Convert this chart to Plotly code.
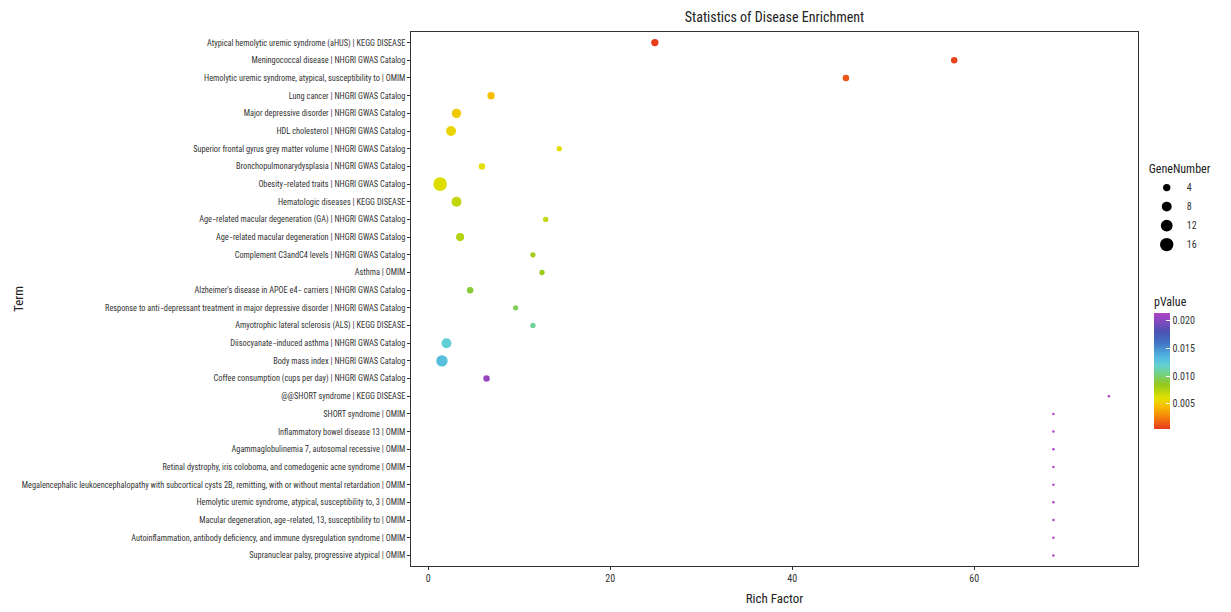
import numpy as np
import plotly.graph_objects as go

terms = [
    "Atypical hemolytic uremic syndrome (aHUS) | KEGG DISEASE",
    "Meningococcal disease | NHGRI GWAS Catalog",
    "Hemolytic uremic syndrome, atypical, susceptibility to | OMIM",
    "Lung cancer | NHGRI GWAS Catalog",
    "Major depressive disorder | NHGRI GWAS Catalog",
    "HDL cholesterol | NHGRI GWAS Catalog",
    "Superior frontal gyrus grey matter volume | NHGRI GWAS Catalog",
    "Bronchopulmonarydysplasia | NHGRI GWAS Catalog",
    "Obesity−related traits | NHGRI GWAS Catalog",
    "Hematologic diseases | KEGG DISEASE",
    "Age−related macular degeneration (GA) | NHGRI GWAS Catalog",
    "Age−related macular degeneration | NHGRI GWAS Catalog",
    "Complement C3andC4 levels | NHGRI GWAS Catalog",
    "Asthma | OMIM",
    "Alzheimer's disease in APOE e4− carriers | NHGRI GWAS Catalog",
    "Response to anti−depressant treatment in major depressive disorder | NHGRI GWAS Catalog",
    "Amyotrophic lateral sclerosis (ALS) | KEGG DISEASE",
    "Diisocyanate−induced asthma | NHGRI GWAS Catalog",
    "Body mass index | NHGRI GWAS Catalog",
    "Coffee consumption (cups per day) | NHGRI GWAS Catalog",
    "@@SHORT syndrome | KEGG DISEASE",
    "SHORT syndrome | OMIM",
    "Inflammatory bowel disease 13 | OMIM",
    "Agammaglobulinemia 7, autosomal recessive | OMIM",
    "Retinal dystrophy, iris coloboma, and comedogenic acne syndrome | OMIM",
    "Megalencephalic leukoencephalopathy with subcortical cysts 2B, remitting, with or without mental retardation | OMIM",
    "Hemolytic uremic syndrome, atypical, susceptibility to, 3 | OMIM",
    "Macular degeneration, age−related, 13, susceptibility to | OMIM",
    "Autoinflammation, antibody deficiency, and immune dysregulation syndrome | OMIM",
    "Supranuclear palsy, progressive atypical | OMIM",
]

rich_factor = [24.9, 57.8, 45.9, 6.9, 3.1, 2.5, 14.4, 5.9, 1.3, 3.1,
               12.9, 3.5, 11.5, 12.5, 4.6, 9.6, 11.5, 2.0, 1.5, 6.4,
               74.8, 68.7, 68.7, 68.7, 68.7, 68.7, 68.7, 68.7, 68.7, 68.7]

gene_number = [4, 3, 3, 4, 7, 8, 2, 3, 17, 8,
               2, 5, 2, 2, 3, 2, 2, 8, 11, 3,
               1, 1, 1, 1, 1, 1, 1, 1, 1, 1]

p_value = [0.0005, 0.0007, 0.0012, 0.0045, 0.0050, 0.0055, 0.0060, 0.0060, 0.0062, 0.0070,
           0.0070, 0.0075, 0.0080, 0.0082, 0.0090, 0.0095, 0.0108, 0.0120, 0.0130, 0.0205,
           0.0214, 0.0214, 0.0214, 0.0214, 0.0214, 0.0214, 0.0214, 0.0214, 0.0214, 0.0214]

legend_sizes = [4, 8, 12, 16]
x_ticks = [0, 20, 40, 60]
cbar_ticks = [0.005, 0.010, 0.015, 0.020]

P_MIN, P_MAX = 0.0004, 0.0214
colorscale = [
    [0.0, "#e63a1e"], [0.10, "#f5800c"], [0.195, "#f7bd00"], [0.267, "#e2e000"],
    [0.386, "#92c81e"], [0.481, "#72d28c"], [0.552, "#62d0d2"], [0.624, "#52b6e2"],
    [0.743, "#4274c4"], [0.838, "#4a52b2"], [1.0, "#b042c4"],
]

def diam(g):
    return 2.5 + 2.8 * np.sqrt(np.asarray(g, dtype=float) - 1)

FONT = "Roboto Condensed, DejaVu Sans Condensed, Liberation Sans Narrow, Arial Narrow, Liberation Sans, Arial, sans-serif"

# page body has an 8px default margin; figure is sized/offset to compensate
W, H = 1223, 604
ML, MR, MT, MB = 403, 93, 24, 46

fig = go.Figure()
fig.add_trace(go.Scatter(
    x=rich_factor, y=terms, mode="markers", showlegend=False,
    marker=dict(size=diam(gene_number), color=p_value, colorscale=colorscale,
                cmin=P_MIN, cmax=P_MAX, line=dict(width=0), opacity=1,
                colorbar=dict(
                    title=dict(text="pValue", font=dict(size=12, family=FONT, color="#222"), side="top"),
                    tickvals=cbar_ticks, ticktext=[f"{v:.3f}" for v in cbar_ticks],
                    ticks="inside", ticklen=4, tickcolor="white",
                    tickfont=dict(size=10, family=FONT, color="#333"),
                    thickness=16, lenmode="pixels", len=135,
                    x=1.022, xanchor="left", y=0.509, yanchor="top",
                    outlinewidth=0, ypad=0, xpad=0,
                )),
))

for s in legend_sizes:
    fig.add_trace(go.Scatter(
        x=[None], y=[None], mode="markers", name=str(s), showlegend=True,
        marker=dict(size=float(diam(s)), color="black"),
    ))

fig.update_layout(
    width=W, height=H,
    margin=dict(l=ML, r=MR, t=MT, b=MB),
    paper_bgcolor="white", plot_bgcolor="white",
    font=dict(family=FONT, color="#333"),
    title=dict(text="Statistics of Disease Enrichment", x=0.5, xref="paper",
               y=1 - 9 / H, yanchor="middle",
               font=dict(size=14, family=FONT, color="#222")),
    legend=dict(title=dict(text="GeneNumber", font=dict(size=12, family=FONT, color="#222")),
                x=1.012, xanchor="left", y=0.765, yanchor="top",
                font=dict(size=10, family=FONT, color="#333"),
                itemsizing="trace", tracegroupgap=0, bgcolor="rgba(0,0,0,0)"),
    xaxis=dict(range=[-1.9, 78.0], tickvals=x_ticks, showgrid=False, zeroline=False,
               showline=True, mirror=True, linecolor="#333", linewidth=1,
               ticks="outside", ticklen=3, tickcolor="#333",
               tickfont=dict(size=10, family=FONT, color="#333"),
               title=dict(text="Rich Factor", font=dict(size=13, family=FONT, color="#222"), standoff=10),
               automargin=False),
    yaxis=dict(type="category", categoryorder="array", categoryarray=terms,
               range=[len(terms) - 0.4, -0.6], showgrid=False, zeroline=False,
               showline=True, mirror=True, linecolor="#333", linewidth=1,
               ticks="outside", ticklen=3, tickcolor="#333",
               tickfont=dict(size=8.3, family=FONT, color="#333"),
               automargin=False),
    annotations=[dict(text="Term", x=(10 - ML) / (W - ML - MR), y=0.5, xref="paper", yref="paper",
                      showarrow=False, textangle=-90, xanchor="center", yanchor="middle",
                      font=dict(size=13, family=FONT, color="#222"))],
)

fig.write_html("out.html")
